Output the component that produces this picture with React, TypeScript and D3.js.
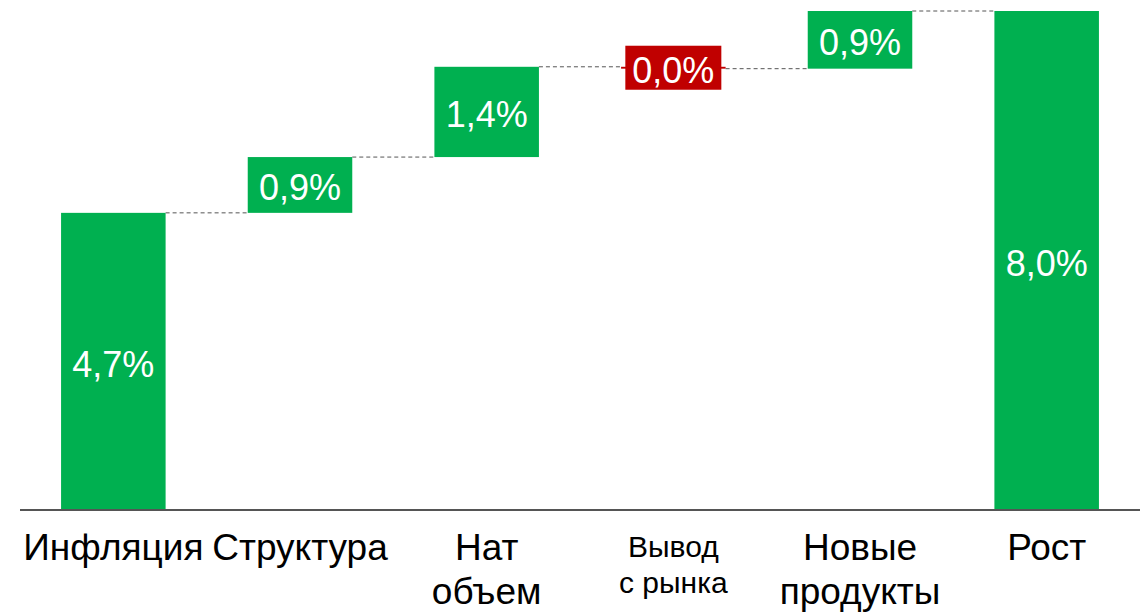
import React from 'react';
import * as d3 from 'd3';

// categories (lines of each axis label)
const categories = ['Инфляция', 'Структура', 'Нат объем', 'Вывод с рынка', 'Новые продукты', 'Рост'];
const labelLines = [['Инфляция'], ['Структура'], ['Нат', 'объем'], ['Вывод', 'с рынка'], ['Новые', 'продукты'], ['Рост']];
// contribution of each step, in %
const deltas = [4.74, 0.89, 1.44, -0.03, 0.92, 7.96];
const valueLabels = ['4,7%', '0,9%', '1,4%', '0,0%', '0,9%', '8,0%'];
const isTotal = [true, false, false, false, false, true];

const W = 1144;
const H = 613;
const GREEN = '#00B050';
const RED = '#C00000';
const FONT = '"Liberation Sans", Arial, sans-serif';

export default function App() {
  const margin = { top: 11, right: 4, bottom: 103, left: 20 };
  const innerW = W - margin.left - margin.right;
  const innerH = H - margin.top - margin.bottom;

  const x = d3.scaleBand().domain(categories).range([0, innerW]).paddingInner(0.44).paddingOuter(0.22);
  const y = d3.scaleLinear().domain([0, 7.96]).range([innerH, 0]);

  // build waterfall steps
  let run = 0;
  const steps = categories.map((c, i) => {
    let start: number, end: number;
    if (isTotal[i]) {
      start = 0;
      end = deltas[i];
    } else {
      start = run;
      end = run + deltas[i];
    }
    run = end;
    return { c, i, start, end };
  });

  const bw = x.bandwidth();

  return (
    <svg width={W} height={H} style={{ position: 'absolute', left: 0, top: 0 }}>
      <g transform={`translate(${margin.left},${margin.top})`}>
        {/* connectors */}
        {steps.slice(0, -1).map((s, i) => {
          const next = steps[i + 1];
          const yy = y(s.end);
          return (
            <line key={'c' + i} x1={x(s.c)! + bw} x2={x(next.c)!} y1={yy} y2={yy}
              stroke="#555" strokeWidth={1} strokeDasharray="4,3" />
          );
        })}
        {/* bars */}
        {steps.map(s => {
          const top = y(Math.max(s.start, s.end));
          const h = Math.abs(y(s.start) - y(s.end));
          return (
            <rect key={'b' + s.i} x={x(s.c)} y={top} width={bw} height={Math.max(h, 1)}
              fill={deltas[s.i] < 0 ? RED : GREEN} />
          );
        })}
        {/* value labels */}
        {steps.map(s => {
          const cx = x(s.c)! + bw / 2;
          const cy = (y(s.start) + y(s.end)) / 2;
          const neg = deltas[s.i] < 0;
          return (
            <g key={'l' + s.i}>
              {neg && <rect x={cx - 48} y={cy - 22} width={96} height={44} fill={RED} />}
              <text x={cx} y={cy} dy="0.42em" textAnchor="middle" fill="#fff"
                fontFamily={FONT} fontSize={36}>{valueLabels[s.i]}</text>
            </g>
          );
        })}
        {/* axis line */}
        <line x1={0} x2={innerW} y1={innerH} y2={innerH} stroke="#555" strokeWidth={2} />
        {/* category labels */}
        {categories.map((c, i) => {
          const small = i === 3;
          const fs = small ? 30 : 37;
          const cx = x(c)! + bw / 2;
          return (
            <text key={'t' + i} x={cx} textAnchor="middle" fontFamily={FONT} fontSize={fs} fill="#000">
              {labelLines[i].map((ln, j) => (
                <tspan key={j} x={cx} y={innerH + (small ? 47 : 50) + j * (small ? 36 : 44)}>{ln}</tspan>
              ))}
            </text>
          );
        })}
      </g>
    </svg>
  );
}
